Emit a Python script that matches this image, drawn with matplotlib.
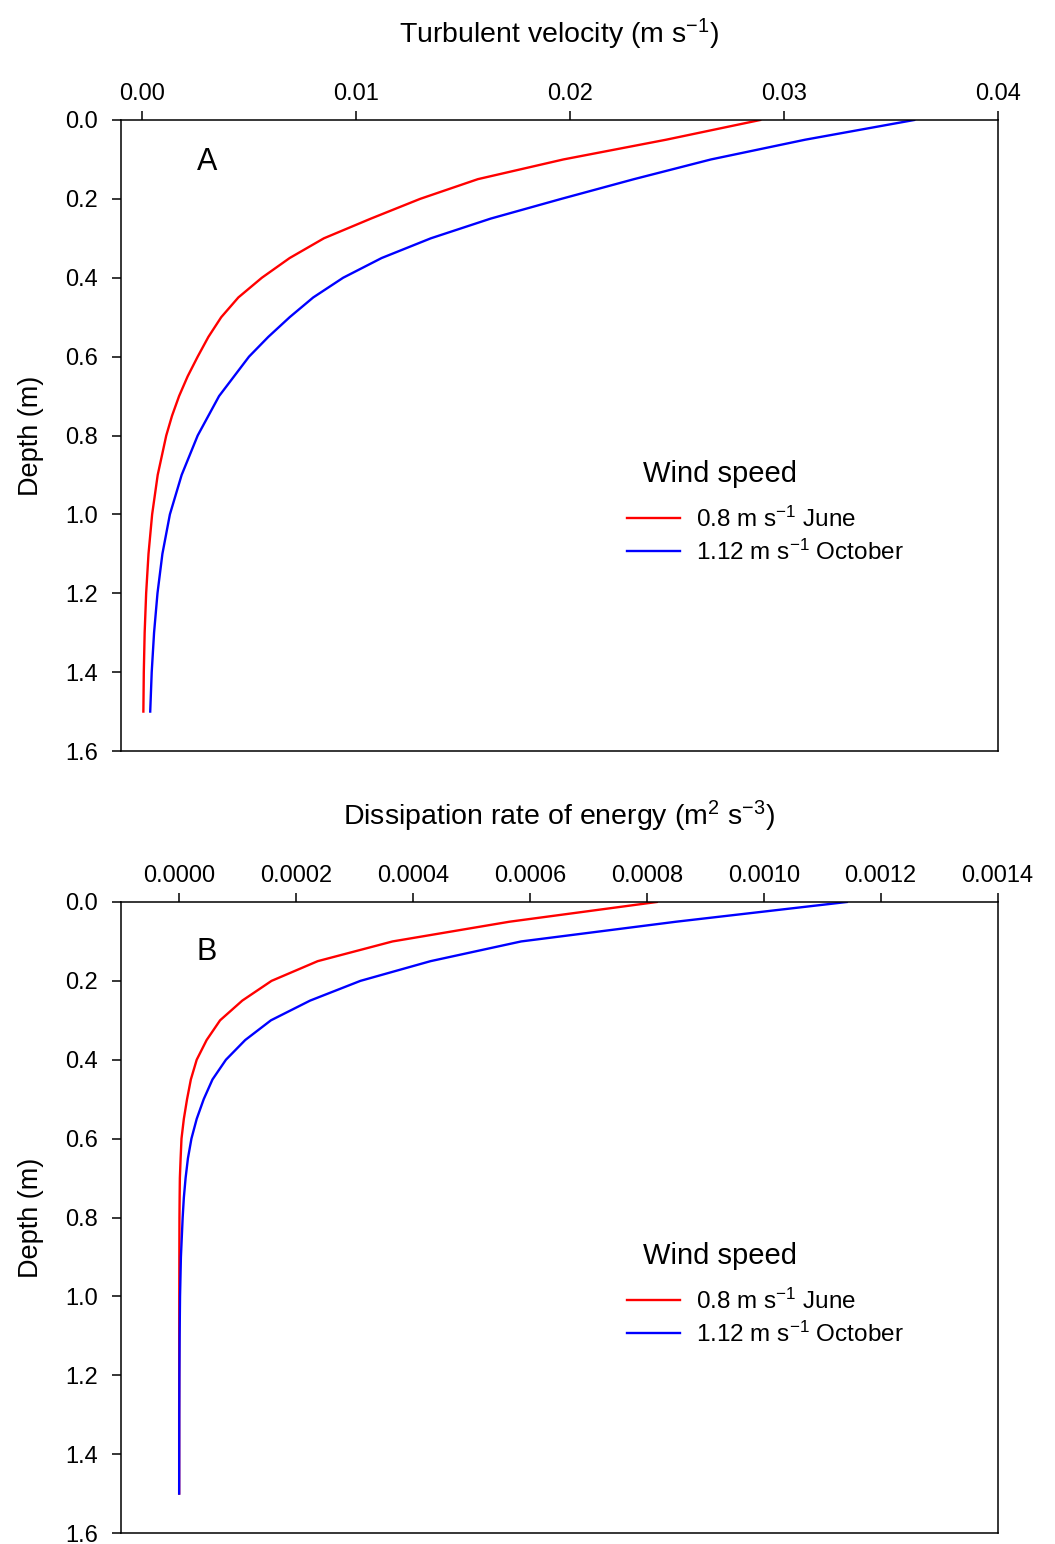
"""Turbulent velocity and dissipation rate profiles versus depth (panels A and B)."""

import matplotlib
matplotlib.use("Agg")
import matplotlib.pyplot as plt
from matplotlib.ticker import FormatStrFormatter, MultipleLocator

plt.rcParams["font.family"] = ["Liberation Sans", "DejaVu Sans"]
plt.rcParams["mathtext.default"] = "regular"

# depth (m)
depth = [0.0, 0.05, 0.1, 0.15, 0.2, 0.25, 0.3, 0.35, 0.4, 0.45, 0.5, 0.55,
         0.6, 0.65, 0.7, 0.75, 0.8, 0.9, 1.0, 1.1, 1.2, 1.3, 1.4, 1.5]

# turbulent velocity (m s-1)
vel_june = [0.0289, 0.0245, 0.0197, 0.0157, 0.0130, 0.0107, 0.0085, 0.0069,
            0.0056, 0.0045, 0.0037, 0.0031, 0.0026, 0.00213, 0.00173,
            0.0014, 0.00113, 0.00073, 0.00047, 0.00030, 0.00019, 0.00012,
            0.00008, 0.00006]
vel_oct = [0.0361, 0.0310, 0.0266, 0.0230, 0.0196, 0.0163, 0.0135, 0.0112,
           0.0094, 0.0080, 0.0069, 0.0059, 0.0050, 0.0043, 0.0036, 0.0031,
           0.0026, 0.00185, 0.0013, 0.00095, 0.00072, 0.00056, 0.00045,
           0.00038]

# dissipation rate of energy (m2 s-3)
eps_june = [0.000817, 0.000565, 0.000365, 0.000237, 0.000158, 0.000108,
            0.000070, 0.000047, 0.000030, 0.00002, 0.0000135, 0.000008,
            0.000004, 0.0000025, 0.0000012, 0.0000008, 0.0000005,
            0.0000003, 0.0000002, 0.0000001, 0.0000001, 0.0, 0.0, 0.0]
eps_oct = [0.001142, 0.00085, 0.000585, 0.00043, 0.00031, 0.000224,
           0.000157, 0.000113, 0.00008, 0.000057, 0.000042, 0.00003,
           0.000021, 0.000015, 0.000011, 0.000008, 0.000006, 0.000003,
           0.0000015, 0.0000008, 0.0000004, 0.0000002, 0.0000001, 0.0]

labels = [r"0.8 m s$^{-1}$ June", r"1.12 m s$^{-1}$ October"]
colors = ["#ff0000", "#0000ff"]

W, H = 1055, 1544
fig = plt.figure(figsize=(W / 100, H / 100), dpi=100)


def panel(rect, xj, xo, xlim, xstep, xfmt, xlabel, letter, letter_y):
    ax = fig.add_axes(rect)
    ax.plot(xj, depth, color=colors[0], lw=1.7, label=labels[0])
    ax.plot(xo, depth, color=colors[1], lw=1.7, label=labels[1])
    ax.set_xlim(*xlim)
    ax.set_ylim(1.6, 0.0)
    ax.xaxis.set_major_locator(MultipleLocator(xstep))
    ax.xaxis.set_major_formatter(FormatStrFormatter(xfmt))
    ax.yaxis.set_major_locator(MultipleLocator(0.2))
    ax.yaxis.set_major_formatter(FormatStrFormatter("%.1f"))
    ax.xaxis.tick_top()
    ax.xaxis.set_label_position("top")
    ax.tick_params(axis="x", direction="out", length=6.5, width=1.1,
                   labelsize=17, pad=4)
    ax.tick_params(axis="y", direction="out", length=6.5, width=1.1,
                   labelsize=17, pad=10)
    for s in ax.spines.values():
        s.set_linewidth(1.1)
    ax.set_xlabel(xlabel, fontsize=20.5, labelpad=29)
    ax.set_ylabel("Depth (m)", fontsize=19.5, labelpad=15)
    ax.text(0.098, letter_y, letter, transform=ax.transAxes, fontsize=22,
            ha="center", va="center")
    ax.text(0.5956, 0.439, "Wind speed", transform=ax.transAxes,
            fontsize=21, ha="left", va="center")
    ax.legend(loc="upper left", bbox_to_anchor=(0.577, 0.387),
              frameon=False, fontsize=17.5, handlelength=2.2,
              handletextpad=0.66, labelspacing=0.32, borderpad=0,
              borderaxespad=0)
    return ax


left, right = 120.7 / W, 997.6 / W
panel([left, 1 - 751 / H, right - left, (751 - 120) / H],
      vel_june, vel_oct, (-0.001, 0.04), 0.01, "%.2f",
      r"Turbulent velocity (m s$^{-1}$)", "A", 0.933)
panel([left, 1 - 1533 / H, right - left, (1533 - 902) / H],
      eps_june, eps_oct, (-0.0001, 0.0014), 0.0002, "%.4f",
      r"Dissipation rate of energy (m$^{2}$ s$^{-3}$)", "B", 0.921)

fig.savefig("out.png", dpi=100)
